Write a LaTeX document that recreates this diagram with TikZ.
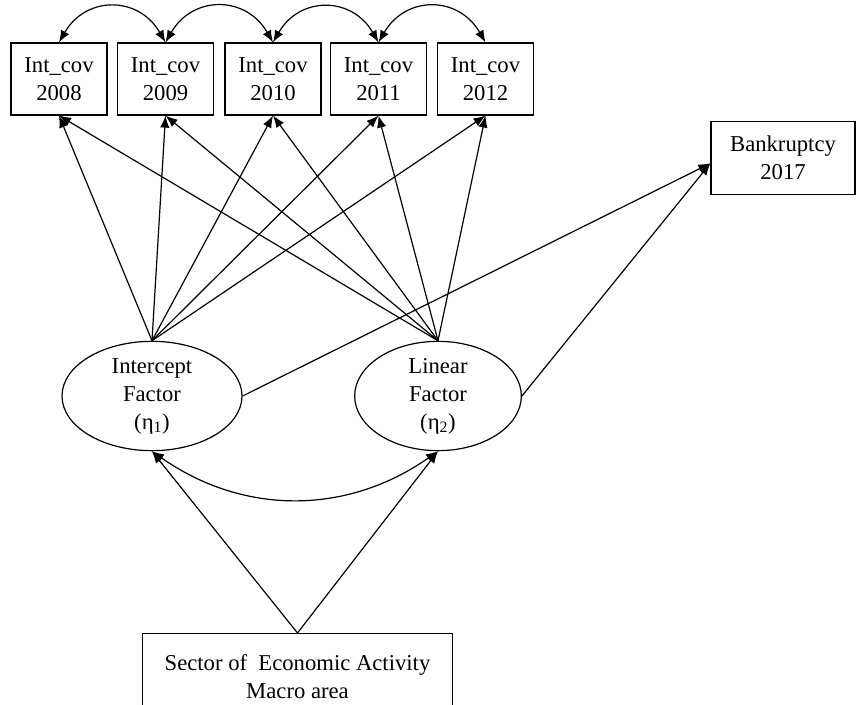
\documentclass[tikz,border=0pt]{standalone}
\usepackage{fontspec}
\setmainfont{Liberation Serif}
\usetikzlibrary{shapes,arrows,arrows.meta,positioning,calc}

\begin{document}
\begin{tikzpicture}[x=0.75pt,y=0.75pt,line width=0.9pt,
    >={Latex[length=9pt,width=7pt]},
    every node/.style={font=\fontsize{17}{21}\selectfont,align=center},
    obs/.style={rectangle,draw,inner sep=0pt,minimum width=72pt,minimum height=54pt},
    lat/.style={ellipse,draw,inner sep=0pt,minimum height=82pt}]
    \useasboundingbox (0,0) rectangle (856,704);
    \clip (0,0) rectangle (856,704);

    % observed repeated measures
    \node[obs] (c1) at (59,625) {Int\_cov\\2008};
    \node[obs] (c2) at (165.5,625) {Int\_cov\\2009};
    \node[obs] (c3) at (273,625) {Int\_cov\\2010};
    \node[obs] (c4) at (378.5,625) {Int\_cov\\2011};
    \node[obs] (c5) at (485.5,625) {Int\_cov\\2012};

    \node[obs,minimum width=108pt,minimum height=55pt] (bank) at (783,546) {Bankruptcy\\2017};

    % latent growth factors
    \node[lat,minimum width=135pt] (int) at (152,308) {Intercept\\Factor\\(η\textsubscript{1})};
    \node[lat,minimum width=125pt] (lin) at (438,308) {Linear\\Factor\\(η\textsubscript{2})};

    \node[obs,minimum width=232pt,minimum height=65pt,anchor=north] (sect) at (297.5,71) {Sector of\ \ Economic Activity\\Macro area};

    \foreach \a/\b in {c1/c2,c2/c3,c3/c4,c4/c5}
        \draw[<->] (\a.north) to[out=60,in=120,looseness=1.3] (\b.north);

    \foreach \i in {1,...,5} {
        \draw[->] (int.north) -- (c\i.south);
        \draw[->] (lin.north) -- (c\i.south);
    }

    \draw[->] (int.east) -- ([yshift=-4pt]bank.west);
    \draw[->] (lin.east) -- ([yshift=-4pt]bank.west);

    \draw[->] (sect.north) -- (int.south);
    \draw[->] (sect.north) -- (lin.south);
    \draw[<->] (int.south) to[out=-35,in=-145] (lin.south);
\end{tikzpicture}
\end{document}
